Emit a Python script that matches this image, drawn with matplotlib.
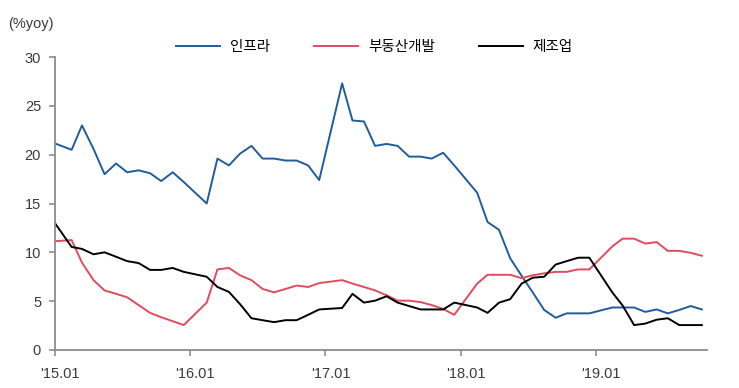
import matplotlib
matplotlib.use('Agg')
import matplotlib.pyplot as plt
import matplotlib.transforms as mtransforms
import pandas as pd

plt.rcParams['font.family'] = ['Liberation Sans', 'Noto Sans CJK KR', 'DejaVu Sans']

# 월별 누적 (1월은 1-2월 합산이라 없음), 첫 값은 축 밖의 '14.12
months = ['2014-12'] + [f'{y}-{m:02d}' for y in range(2015, 2020) for m in range(2, 13)][:-2]

infra = [21.4,
         20.5, 23.0, 20.6, 18.0, 19.1, 18.2, 18.4, 18.1, 17.3, 18.2, 17.2,
         15.0, 19.6, 18.9, 20.1, 20.9, 19.6, 19.6, 19.4, 19.4, 18.9, 17.4,
         27.3, 23.5, 23.4, 20.9, 21.1, 20.9, 19.8, 19.8, 19.6, 20.2, 18.9,
         16.1, 13.1, 12.3, 9.4, 7.6, 5.9, 4.1, 3.3, 3.75, 3.75, 3.75,
         4.35, 4.35, 4.35, 3.9, 4.15, 3.75, 4.1, 4.5, 4.15]
realestate = [11.1,
              11.25, 8.95, 7.15, 6.1, 5.75, 5.4, 4.6, 3.8, 3.35, 2.95, 2.55,
              4.85, 8.25, 8.4, 7.65, 7.15, 6.25, 5.9, 6.25, 6.6, 6.45, 6.85,
              7.15, 6.8, 6.45, 6.1, 5.6, 5.05, 5.05, 4.9, 4.6, 4.2, 3.6,
              6.8, 7.7, 7.7, 7.7, 7.35, 7.65, 7.85, 8.0, 8.0, 8.25, 8.25,
              10.6, 11.4, 11.4, 10.9, 11.05, 10.15, 10.15, 9.95, 9.65]
manuf = [13.9,
         10.55, 10.35, 9.8, 10.0, 9.55, 9.1, 8.9, 8.2, 8.2, 8.4, 8.0,
         7.5, 6.45, 5.95, 4.7, 3.25, 3.05, 2.85, 3.05, 3.05, 3.6, 4.15,
         4.3, 5.75, 4.85, 5.05, 5.5, 4.85, 4.5, 4.15, 4.15, 4.15, 4.85,
         4.35, 3.8, 4.85, 5.2, 6.8, 7.4, 7.5, 8.75, 9.1, 9.45, 9.45,
         5.9, 4.55, 2.55, 2.7, 3.1, 3.25, 2.55, 2.55, 2.55]

labels = ['인프라', '부동산개발', '제조업']
colors = ['#1f5d9c', '#e04b5f', '#000000']
xticks = ['2015-01-01', '2016-01-01', '2017-01-01', '2018-01-01', '2019-01-01']
xticklabels = ["'15.01", "'16.01", "'17.01", "'18.01", "'19.01"]

x = pd.to_datetime(months) + pd.Timedelta(days=14)

fig = plt.figure(figsize=(7.39, 3.88), dpi=100)
ax = fig.add_axes([0.0744, 0.098, 0.8818, 0.755])

for ys, lab, c in zip([infra, realestate, manuf], labels, colors):
    ax.plot(x, ys, color=c, lw=1.4, label=lab)

ax.set_xlim(pd.Timestamp('2015-01-01'), pd.Timestamp('2019-10-28'))
ax.set_ylim(0, 30)
ax.set_yticks(range(0, 31, 5))
ax.set_xticks(pd.to_datetime(xticks))
ax.set_xticklabels(xticklabels)

for s in ['top', 'right']:
    ax.spines[s].set_visible(False)
for s in ['left', 'bottom']:
    ax.spines[s].set_color('#8c8c8c')
    ax.spines[s].set_linewidth(1.3)
ax.tick_params(axis='both', colors='#8c8c8c', length=4, width=1.2,
               labelsize=10.5, labelcolor='#3a3a3a')
ax.tick_params(axis='y', pad=6)
ax.tick_params(axis='x', pad=8)

# x 라벨은 눈금보다 약간 오른쪽
off = mtransforms.ScaledTranslation(5 / 100, 0, fig.dpi_scale_trans)
for t in ax.get_xticklabels():
    t.set_transform(t.get_transform() + off)

fig.text(0.011, 0.938, '(%yoy)', fontsize=10.5, color='#3a3a3a', va='center')

fig.legend(loc='center', bbox_to_anchor=(0.507, 0.879), ncol=3, frameon=False,
           fontsize=10.5, handlelength=3.0, handletextpad=0.7, columnspacing=3.0)

fig.savefig('out.png', dpi=100)
